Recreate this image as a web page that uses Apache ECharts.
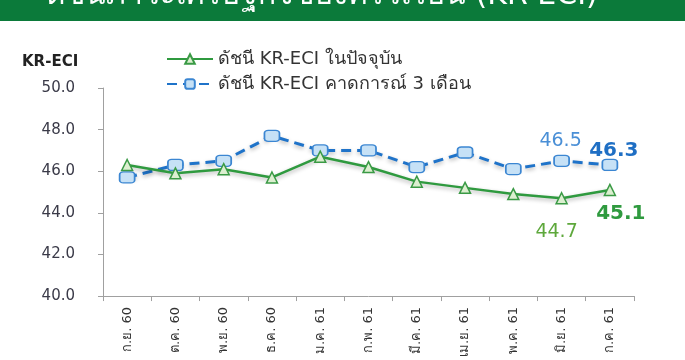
<!DOCTYPE html>
<html>
<head>
<meta charset="utf-8">
<script src="https://cdn.jsdelivr.net/npm/echarts@6/dist/echarts.min.js"></script>
<style>
  html, body { margin: 0; padding: 0; background: #fff; }
  #chart { width: 685px; height: 360px; }
</style>
</head>
<body>
<div id="chart"></div>
<script>
var categories = ['ก.ย. 60', 'ต.ค. 60', 'พ.ย. 60', 'ธ.ค. 60', 'ม.ค. 61', 'ก.พ. 61', 'มี.ค. 61', 'เม.ย. 61', 'พ.ค. 61', 'มิ.ย. 61', 'ก.ค. 61'];
var currentIndex = [46.3, 45.9, 46.1, 45.7, 46.7, 46.2, 45.5, 45.2, 44.9, 44.7, 45.1];
var expectIndex = [45.7, 46.3, 46.5, 47.7, 47.0, 47.0, 46.2, 46.9, 46.1, 46.5, 46.3];
var seriesNames = ['ดัชนี KR-ECI ในปัจจุบัน', 'ดัชนี KR-ECI คาดการณ์ 3 เดือน'];
var titleText = 'ดัชนีภาวะเศรษฐกิจของครัวเรือน (KR-ECI)';
var axisName = 'KR-ECI';

var FONT = 'DejaVu Sans';
var n = categories.length;

function buildGreen() {
  return currentIndex.map(function (v, i) {
    var item = { value: v };
    if (i === n - 2) {
      item.label = { show: true, position: 'bottom', distance: 18, offset: [-5, 0],
        fontSize: 19, fontFamily: FONT, color: '#5ea83c' };
    } else if (i === n - 1) {
      item.label = { show: true, position: 'bottom', distance: 8, offset: [11, 0],
        fontSize: 20, fontWeight: 'bold', fontFamily: FONT, color: '#2f9a3f' };
    }
    return item;
  });
}
function buildBlue() {
  return expectIndex.map(function (v, i) {
    var item = { value: v };
    if (i === n - 2) {
      item.label = { show: true, position: 'top', distance: 4, offset: [-1, 0],
        fontSize: 19, fontFamily: FONT, color: '#4a8fd6' };
    } else if (i === n - 1) {
      item.label = { show: true, position: 'top', distance: 0, offset: [4, 2],
        fontSize: 20, fontWeight: 'bold', fontFamily: FONT, color: '#1f6fc4' };
    }
    return item;
  });
}

var chart = echarts.init(document.getElementById('chart'));
chart.setOption({
  animation: false,
  backgroundColor: '#ffffff',
  textStyle: { fontFamily: FONT },
  graphic: [
    { type: 'rect', left: 0, top: 0, shape: { width: 685, height: 21 }, style: { fill: '#0b7a3a' }, z: 0 },
    { type: 'text', x: 46, y: 11, style: { text: titleText, fill: '#ffffff', font: '30px "DejaVu Sans", "Noto Sans", sans-serif', textVerticalAlign: 'bottom' }, z: 1 },
    { type: 'text', x: 22, y: 55, style: { text: axisName, fill: '#222', font: 'bold 15px "DejaVu Sans", sans-serif' } }
  ],
  legend: {
    orient: 'vertical',
    left: 161,
    top: 45,
    itemWidth: 46,
    itemHeight: 12,
    itemGap: 7,
    textStyle: { fontSize: 18, color: '#333', fontFamily: FONT },
    data: seriesNames
  },
  grid: { left: 103, right: 51, top: 88, bottom: 53, containLabel: false },
  xAxis: {
    type: 'category',
    data: categories,
    boundaryGap: true,
    axisLine: { lineStyle: { color: '#a0a0a0', width: 1 } },
    axisTick: { show: true, length: 5, lineStyle: { color: '#a0a0a0' } },
    axisLabel: { rotate: 90, fontSize: 13, color: '#333', margin: 11, fontFamily: FONT }
  },
  yAxis: {
    type: 'value',
    min: 40, max: 50, interval: 2,
    axisLine: { show: true, lineStyle: { color: '#a0a0a0', width: 1 } },
    axisTick: { show: true, length: 5, lineStyle: { color: '#a0a0a0' } },
    splitLine: { show: false },
    axisLabel: { fontSize: 15, color: '#3a3a48', margin: 28, fontFamily: FONT,
      formatter: function (v) { return v.toFixed(1); } }
  },
  series: [
    {
      name: seriesNames[0],
      type: 'line',
      data: buildGreen(),
      symbol: 'triangle',
      symbolSize: 11,
      color: '#2f9a3f',
      lineStyle: { color: '#2f9a3f', width: 2.5, shadowColor: 'rgba(0,0,0,0.3)', shadowBlur: 4, shadowOffsetY: 2 },
      itemStyle: { color: '#dcefd0', borderColor: '#3a9a45', borderWidth: 1.5 },
      z: 3
    },
    {
      name: seriesNames[1],
      type: 'line',
      data: buildBlue(),
      symbol: 'roundRect',
      symbolSize: [15, 11],
      color: '#1f73c9',
      lineStyle: { color: '#1f73c9', width: 3, type: [10, 6], shadowColor: 'rgba(0,0,0,0.3)', shadowBlur: 4, shadowOffsetY: 2 },
      itemStyle: { color: '#c6e1f6', borderColor: '#3b86d2', borderWidth: 1.5 },
      z: 2
    }
  ]
});
</script>
</body>
</html>
